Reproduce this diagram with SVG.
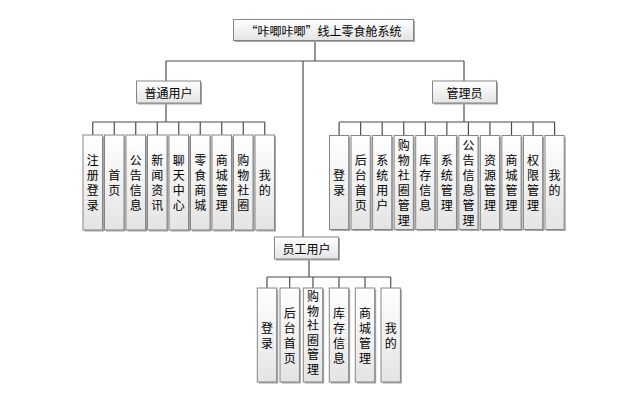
<svg xmlns="http://www.w3.org/2000/svg" width="625" height="398" viewBox="0 0 625 398">
<defs>
<linearGradient id="g" x1="0" y1="0" x2="0" y2="1">
<stop offset="0" stop-color="#ffffff"/>
<stop offset="1" stop-color="#e4e4e4"/>
</linearGradient>
<style>
.sh{fill:#a6a6a6;}
.bx{fill:url(#g);stroke:#858585;stroke-width:1;}
.t{font-family:"Noto Sans CJK SC","Noto Sans",sans-serif;font-size:12px;fill:#000;text-anchor:middle;dominant-baseline:central;}
.v{font-family:"Noto Sans CJK SC","Noto Sans",sans-serif;font-size:12px;fill:#000;text-anchor:middle;writing-mode:vertical-rl;letter-spacing:3px;}
.v2{letter-spacing:2.5px;}
.c{fill:none;stroke:#4d4d4d;stroke-width:1.2;}
</style>
</defs>
<rect width="625" height="398" fill="#ffffff"/>

<g id="connectors">
<path class="c" d="M315,41V61M166,61H464M303,61V237M166,61V81M464,61V81"/>
<path class="c" d="M166,103V122M92.75,122H264.75M92.75,122V135M114.25,122V135M135.75,122V135M157.25,122V135M178.75,122V135M200.25,122V135M221.75,122V135M243.25,122V135M264.75,122V135"/>
<path class="c" d="M464,103V122M339.1,122H554.6M339.1,122V135.5M360.65,122V135.5M382.2,122V135.5M403.75,122V135.5M425.3,122V135.5M446.85,122V135.5M468.4,122V135.5M489.95,122V135.5M511.5,122V135.5M533.05,122V135.5M554.6,122V135.5"/>
<path class="c" d="M309,259V277M267,277H390.7M267,277V288M289.7,277V288M313,277V288M339,277V288M365,277V288M390.7,277V288"/>
</g>

<g id="root">
<rect class="sh" x="235" y="21" width="180" height="21"/>
<rect class="bx" x="233.5" y="19.5" width="180" height="21"/>
<text class="t" x="323.5" y="30">“咔唧咔唧”线上零食舱系统</text>
</g>

<g id="user">
<rect class="sh" x="138" y="82.5" width="64" height="22"/>
<rect class="bx" x="136.5" y="81" width="64" height="22"/>
<text class="t" x="168.5" y="92">普通用户</text>
</g>
<g id="admin">
<rect class="sh" x="434" y="82.5" width="64" height="22"/>
<rect class="bx" x="432.5" y="81" width="64" height="22"/>
<text class="t" x="464.5" y="92">管理员</text>
</g>
<g id="staff">
<rect class="sh" x="276" y="238.5" width="64" height="22"/>
<rect class="bx" x="274.5" y="237" width="64" height="22"/>
<text class="t" x="306.5" y="248">员工用户</text>
</g>

<!-- user leaves -->
<g id="u1"><rect class="sh" x="84.5" y="136.5" width="19.5" height="95"/><rect class="bx" x="83" y="135" width="19.5" height="95"/><text class="v" x="92.75" y="184">注册登录</text></g>
<g id="u2"><rect class="sh" x="106" y="136.5" width="19.5" height="95"/><rect class="bx" x="104.5" y="135" width="19.5" height="95"/><text class="v" x="114.25" y="184">首页</text></g>
<g id="u3"><rect class="sh" x="127.5" y="136.5" width="19.5" height="95"/><rect class="bx" x="126" y="135" width="19.5" height="95"/><text class="v" x="135.75" y="184">公告信息</text></g>
<g id="u4"><rect class="sh" x="149" y="136.5" width="19.5" height="95"/><rect class="bx" x="147.5" y="135" width="19.5" height="95"/><text class="v" x="157.25" y="184">新闻资讯</text></g>
<g id="u5"><rect class="sh" x="170.5" y="136.5" width="19.5" height="95"/><rect class="bx" x="169" y="135" width="19.5" height="95"/><text class="v" x="178.75" y="184">聊天中心</text></g>
<g id="u6"><rect class="sh" x="192" y="136.5" width="19.5" height="95"/><rect class="bx" x="190.5" y="135" width="19.5" height="95"/><text class="v" x="200.25" y="184">零食商城</text></g>
<g id="u7"><rect class="sh" x="213.5" y="136.5" width="19.5" height="95"/><rect class="bx" x="212" y="135" width="19.5" height="95"/><text class="v" x="221.75" y="184">商城管理</text></g>
<g id="u8"><rect class="sh" x="235" y="136.5" width="19.5" height="95"/><rect class="bx" x="233.5" y="135" width="19.5" height="95"/><text class="v" x="243.25" y="184">购物社圈</text></g>
<g id="u9"><rect class="sh" x="256.5" y="136.5" width="19.5" height="95"/><rect class="bx" x="255" y="135" width="19.5" height="95"/><text class="v" x="264.75" y="184">我的</text></g>

<!-- admin leaves -->
<g id="a1"><rect class="sh" x="331" y="137" width="19.2" height="94"/><rect class="bx" x="329.5" y="135.5" width="19.2" height="94"/><text class="v" x="339.1" y="184">登录</text></g>
<g id="a2"><rect class="sh" x="352.55" y="137" width="19.2" height="94"/><rect class="bx" x="351.05" y="135.5" width="19.2" height="94"/><text class="v" x="360.65" y="184">后台首页</text></g>
<g id="a3"><rect class="sh" x="374.1" y="137" width="19.2" height="94"/><rect class="bx" x="372.6" y="135.5" width="19.2" height="94"/><text class="v" x="382.2" y="184">系统用户</text></g>
<g id="a4"><rect class="sh" x="395.65" y="137" width="19.2" height="94"/><rect class="bx" x="394.15" y="135.5" width="19.2" height="94"/><text class="v" x="403.75" y="184">购物社圈管理</text></g>
<g id="a5"><rect class="sh" x="417.2" y="137" width="19.2" height="94"/><rect class="bx" x="415.7" y="135.5" width="19.2" height="94"/><text class="v" x="425.3" y="184">库存信息</text></g>
<g id="a6"><rect class="sh" x="438.75" y="137" width="19.2" height="94"/><rect class="bx" x="437.25" y="135.5" width="19.2" height="94"/><text class="v" x="446.85" y="184">系统管理</text></g>
<g id="a7"><rect class="sh" x="460.3" y="137" width="19.2" height="94"/><rect class="bx" x="458.8" y="135.5" width="19.2" height="94"/><text class="v" x="468.4" y="184">公告信息管理</text></g>
<g id="a8"><rect class="sh" x="481.85" y="137" width="19.2" height="94"/><rect class="bx" x="480.35" y="135.5" width="19.2" height="94"/><text class="v" x="489.95" y="184">资源管理</text></g>
<g id="a9"><rect class="sh" x="503.4" y="137" width="19.2" height="94"/><rect class="bx" x="501.9" y="135.5" width="19.2" height="94"/><text class="v" x="511.5" y="184">商城管理</text></g>
<g id="a10"><rect class="sh" x="524.95" y="137" width="19.2" height="94"/><rect class="bx" x="523.45" y="135.5" width="19.2" height="94"/><text class="v" x="533.05" y="184">权限管理</text></g>
<g id="a11"><rect class="sh" x="546.5" y="137" width="19.2" height="94"/><rect class="bx" x="545" y="135.5" width="19.2" height="94"/><text class="v" x="554.6" y="184">我的</text></g>

<!-- staff leaves -->
<g id="s1"><rect class="sh" x="258.8" y="289.5" width="19.4" height="94"/><rect class="bx" x="257.3" y="288" width="19.4" height="94"/><text class="v" x="267" y="337">登录</text></g>
<g id="s2"><rect class="sh" x="281.5" y="289.5" width="19.4" height="94"/><rect class="bx" x="280" y="288" width="19.4" height="94"/><text class="v" x="289.7" y="337">后台首页</text></g>
<g id="s3"><rect class="sh" x="304.8" y="289.5" width="19.4" height="94"/><rect class="bx" x="303.3" y="288" width="19.4" height="94"/><text class="v v2" x="313" y="334">购物社圈管理</text></g>
<g id="s4"><rect class="sh" x="330.8" y="289.5" width="19.4" height="94"/><rect class="bx" x="329.3" y="288" width="19.4" height="94"/><text class="v" x="339" y="337">库存信息</text></g>
<g id="s5"><rect class="sh" x="356.8" y="289.5" width="19.4" height="94"/><rect class="bx" x="355.3" y="288" width="19.4" height="94"/><text class="v" x="365" y="337">商城管理</text></g>
<g id="s6"><rect class="sh" x="382.5" y="289.5" width="19.4" height="94"/><rect class="bx" x="381" y="288" width="19.4" height="94"/><text class="v" x="390.7" y="337">我的</text></g>
</svg>
